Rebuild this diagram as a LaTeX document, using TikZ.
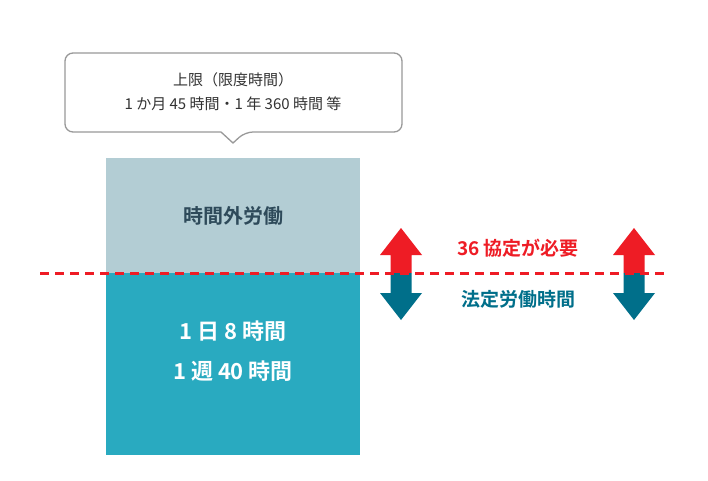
\documentclass[tikz,border=0pt]{standalone}
\usepackage{fontspec}
\setmainfont{Noto Sans CJK JP}
\newfontfamily\jpb{Noto Sans CJK JP Bold}
\definecolor{topc}{HTML}{B3CDD4}
\definecolor{botc}{HTML}{29AAC0}
\definecolor{redc}{HTML}{EE1C25}
\definecolor{tealc}{HTML}{006F8A}
\definecolor{darkt}{HTML}{2E4A5A}
\begin{document}
\begin{tikzpicture}[x=1pt,y=-1pt,
 arrup/.style={fill=redc},
 arrdn/.style={fill=tealc}]
\useasboundingbox (0,0) rectangle (708,480);
\fill[white] (0,0) rectangle (708,480);
% callout
\draw[gray!80,line width=1.3pt,fill=white,rounded corners=8pt]
 (65,53) -- (402,53) -- (402,132) -- (245,132) [sharp corners]-- (233,143) -- (221,132) [rounded corners=8pt]-- (65,132) -- cycle;
\node (callout) at (233,92) [align=center,font=\fontsize{15}{24}\selectfont,text=black!80] {上限（限度時間）\\1 か月 45 時間・1 年 360 時間 等};
% bars
\fill[topc] (106,158) rectangle (360,273);
\fill[botc] (106,273) rectangle (360,455);
\node (over) at (233,216) [font=\jpb\fontsize{20}{24}\selectfont,text=darkt] {時間外労働};
\node (legal) at (233,351) [align=center,font=\jpb\fontsize{22}{40}\selectfont,text=white] {1 日 8 時間\\1 週 40 時間};
% arrows
\foreach \cx in {401,634}{
 \fill[arrup] (\cx-21,255) -- (\cx,228) -- (\cx+21,255) -- (\cx+10.5,255) -- (\cx+10.5,273) -- (\cx-10.5,273) -- (\cx-10.5,255) -- cycle;
 \fill[arrdn] (\cx-10.5,273) -- (\cx+10.5,273) -- (\cx+10.5,293) -- (\cx+21,293) -- (\cx,320) -- (\cx-21,293) -- (\cx-10.5,293) -- cycle;
}
\draw[redc,line width=3pt,dash pattern=on 9pt off 6pt] (40,273) -- (668,273);
\node (need) at (518,248) [font=\jpb\fontsize{19}{24}\selectfont,text=redc] {36 協定が必要};
\node (legaltxt) at (518,299) [font=\jpb\fontsize{19}{24}\selectfont,text=tealc] {法定労働時間};
\end{tikzpicture}
\end{document}
